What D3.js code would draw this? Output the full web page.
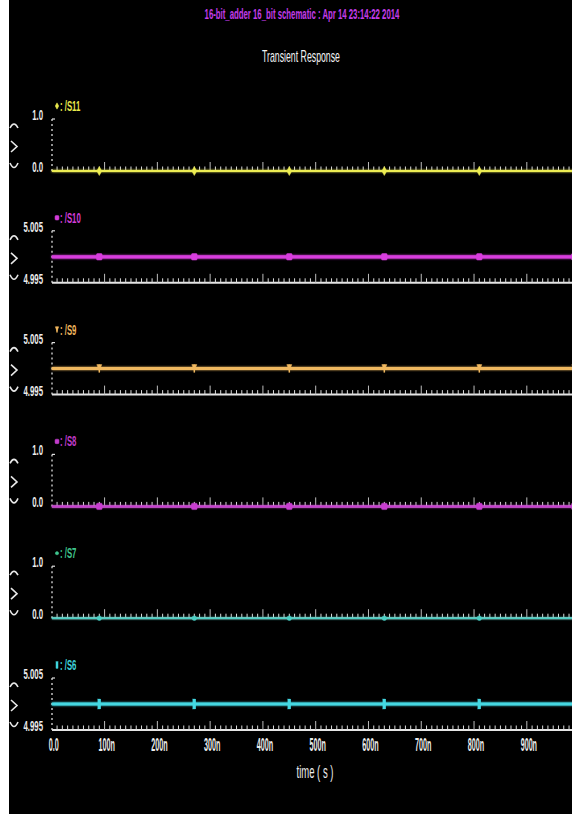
<!DOCTYPE html>
<html>
<head>
<meta charset="utf-8">
<script src="https://cdn.jsdelivr.net/npm/d3@7/dist/d3.min.js"></script>
<style>
  html, body { margin: 0; padding: 0; background: #ffffff; }
  svg { display: block; }
  text { font-family: "Liberation Sans", Arial, sans-serif; }
</style>
</head>
<body>
<svg id="chart" width="572" height="814"></svg>
<script>
// Time axis (ns)
const timeTickValues = [0, 100, 200, 300, 400, 500, 600, 700, 800, 900];
const timeTickLabels = ["0.0", "100n", "200n", "300n", "400n", "500n", "600n", "700n", "800n", "900n"];

// Signals, top to bottom
const signalNames = ["/S11", "/S10", "/S9", "/S8", "/S7", "/S6"];
const signalColors = ["#e8e84c", "#d23cd8", "#eeb45c", "#c23ccc", "#3fc58e", "#3fd4dc"];
const traceColors  = ["#ecec52", "#d83ede", "#f0b860", "#c83ed0", "#4ccfc4", "#44d8e2"];
const traceWidths  = [2, 3.2, 3, 2, 1.5, 3];
const markerShapes = ["diamond", "square", "tri", "square", "circle", "bar"];

// Sample times (ns) and values (V)
const sampleTimes = [0, 90, 270, 450, 630, 810, 990, 1000];
const valuesS11 = [0, 0, 0, 0, 0, 0, 0, 0];
const valuesS10 = [5.0, 5.0, 5.0, 5.0, 5.0, 5.0, 5.0, 5.0];
const valuesS9  = [5.0, 5.0, 5.0, 5.0, 5.0, 5.0, 5.0, 5.0];
const valuesS8  = [0, 0, 0, 0, 0, 0, 0, 0];
const valuesS7  = [0, 0, 0, 0, 0, 0, 0, 0];
const valuesS6  = [5.0, 5.0, 5.0, 5.0, 5.0, 5.0, 5.0, 5.0];
const signalValues = [valuesS11, valuesS10, valuesS9, valuesS8, valuesS7, valuesS6];

// Marker times (ns)
const markerTimes = [90, 270, 450, 630, 810, 990];

// Y ranges and their labels
const yDomains = [[0, 1], [4.995, 5.005], [4.995, 5.005], [0, 1], [0, 1], [4.995, 5.005]];
const yTickLabels = [["0.0", "1.0"], ["4.995", "5.005"], ["4.995", "5.005"],
                     ["0.0", "1.0"], ["0.0", "1.0"], ["4.995", "5.005"]];

const titleText = "16-bit_adder 16_bit schematic : Apr 14 23:14:22 2014";
const subtitleText = "Transient Response";
const xAxisTitle = "time ( s )";

const W = 572, H = 814;
const svg = d3.select("#chart");

// screen background
svg.append("rect").attr("x", 9).attr("y", 0).attr("width", W - 9).attr("height", H).attr("fill", "#000");

const defs = svg.append("defs");
const glow = defs.append("filter").attr("id", "glow").attr("filterUnits", "userSpaceOnUse")
  .attr("x", 0).attr("y", 0).attr("width", W).attr("height", H);
glow.append("feGaussianBlur").attr("stdDeviation", 1.3).attr("result", "b");
const merge = glow.append("feMerge");
merge.append("feMergeNode").attr("in", "b");
merge.append("feMergeNode").attr("in", "SourceGraphic");

// horizontally squeezed text, fitted to a target width
function fitted(parent, str, cx, baseline, width, size, color, weight) {
  const t = parent.append("text").attr("text-anchor", "middle")
    .attr("font-size", size).attr("font-weight", weight || "normal").attr("fill", color).text(str);
  const natural = t.node().getComputedTextLength();
  t.attr("transform", `translate(${cx},${baseline}) scale(${width / natural},1)`);
  return t;
}

// headings
fitted(svg, titleText, 302, 19, 195, 15, "#c23ce8", "bold");
fitted(svg, subtitleText, 301, 62, 78, 16, "#f2f2f2", "normal");

// shared time scale
const x = d3.scaleLinear().domain([0, 1000]).range([51.8, 579.6]);
const xLeft = 52, xRight = W;

// panel placement: baseline of each strip
const panelBottom = d3.scalePoint().domain(signalNames).range([171, 730]);
const panelHeight = 52;

const minorTicks = x.ticks(100).filter(t => t <= 1000);

function condensed(sel, sx) {
  return sel.attr("transform", function () {
    const t = d3.select(this);
    return `translate(${+t.attr("data-x")},${+t.attr("data-y")}) scale(${sx},1)`;
  });
}

function drawMarker(sel, shape, mx, my, s = 1) {
  if (shape === "diamond") {
    sel.append("path").attr("d", `M${mx},${my - 4.5 * s} L${mx + 2.5 * s},${my} L${mx},${my + 4.5 * s} L${mx - 2.5 * s},${my} Z`).attr("stroke-width", 0.5);
  } else if (shape === "square") {
    sel.append("rect").attr("x", mx - 2.8 * s).attr("y", my - 3.2 * s).attr("width", 5.6 * s).attr("height", 6.4 * s).attr("rx", 1).attr("stroke-width", 0.5);
  } else if (shape === "tri") {
    sel.append("path").attr("d", `M${mx - 2.5 * s},${my - 4 * s} L${mx + 2.5 * s},${my - 4 * s} L${mx},${my + 2 * s} Z`).attr("stroke-width", 0.5);
    sel.append("line").attr("x1", mx).attr("x2", mx).attr("y1", my - 4 * s).attr("y2", my + 4 * s).attr("stroke-width", 1.5);
  } else if (shape === "circle") {
    sel.append("circle").attr("cx", mx).attr("cy", my).attr("r", 2.3 * s).attr("stroke-width", 0.5);
  } else if (shape === "bar") {
    sel.append("rect").attr("x", mx - 1.5 * s).attr("y", my - 5 * s).attr("width", 3 * s).attr("height", 10 * s).attr("stroke-width", 0.3);
  }
}

signalNames.forEach((name, i) => {
  const yb = panelBottom(name);
  const yt = yb - panelHeight;
  const y = d3.scaleLinear().domain(yDomains[i]).range([yb, yt]);
  const g = svg.append("g");

  // time axis: line + minor/major ticks pointing up
  g.append("line").attr("x1", xLeft).attr("x2", xRight).attr("y1", yb).attr("y2", yb)
    .attr("stroke", "#e6e6e6").attr("stroke-width", 2);
  g.selectAll("line.tk").data(minorTicks.filter(t => x(t) > xLeft + 1 && x(t) < xRight)).join("line")
    .attr("class", "tk")
    .attr("x1", d => x(d)).attr("x2", d => x(d))
    .attr("y1", yb)
    .attr("y2", d => yb - (d % 100 === 0 ? 9 : 4.5))
    .attr("stroke", d => d % 100 === 0 ? "#bdbdbd" : "#dcdcdc").attr("stroke-width", 1);

  // value axis: dotted vertical with a cap
  g.append("line").attr("x1", xLeft).attr("x2", xLeft).attr("y1", yt).attr("y2", yb)
    .attr("stroke", "#dedede").attr("stroke-width", 1.3).attr("stroke-dasharray", "2,3");
  g.append("line").attr("x1", xLeft).attr("x2", xLeft + 3).attr("y1", yt).attr("y2", yt)
    .attr("stroke", "#dedede").attr("stroke-width", 1.2);

  // value labels
  const yl = [yDomains[i][0], yDomains[i][1]];
  g.selectAll("text.yl").data(yl).join("text").attr("class", "yl")
    .attr("data-x", 43).attr("data-y", d => y(d) + 1)
    .attr("text-anchor", "end").attr("font-size", 15).attr("font-weight", "bold").attr("fill", "#ececec")
    .text((d, k) => yTickLabels[i][k])
    .call(condensed, 0.52);

  // zoom chevrons at the left edge
  const cs = g.append("g").attr("fill", "none").attr("stroke", "#e8e8e8").attr("stroke-width", 1.6);
  cs.append("path").attr("d", `M10,${yt + 9} Q14,${yt + 1} 18,${yt + 9}`);
  cs.append("path").attr("d", `M11,${yb - 30} L17,${yb - 24.5} L11,${yb - 19}`);
  cs.append("path").attr("d", `M10,${yb - 8} Q14,${yb + 1} 18,${yb - 8}`);

  // trace
  const pts = sampleTimes.map((t, k) => [t, signalValues[i][k]]);
  const line = d3.line().x(d => x(d[0])).y(d => y(d[1]));
  g.append("path").datum(pts).attr("d", line)
    .attr("fill", "none").attr("stroke", traceColors[i]).attr("stroke-width", traceWidths[i])
    .attr("filter", "url(#glow)");

  // markers
  const vAt = t => signalValues[i][sampleTimes.indexOf(t)];
  const shape = markerShapes[i];
  const mg = g.append("g").attr("fill", traceColors[i]).attr("stroke", traceColors[i]);
  markerTimes.forEach(t => drawMarker(mg, shape, x(t), y(vAt(t))));

  // legend
  const lg = g.append("g");
  drawMarker(lg.append("g").attr("fill", signalColors[i]).attr("stroke", signalColors[i]), shape, 57, yt - 13, 0.7);
  lg.append("text").attr("data-x", 60).attr("data-y", yt - 8)
    .attr("font-size", 15).attr("font-weight", "bold").attr("fill", signalColors[i])
    .text(": " + name)
    .call(condensed, 0.52);
});

// time tick labels under the last strip
const lastBottom = panelBottom(signalNames[signalNames.length - 1]);
svg.append("g").selectAll("text").data(timeTickValues).join("text")
  .attr("data-x", d => x(d) + 2).attr("data-y", lastBottom + 21)
  .attr("text-anchor", "middle").attr("font-size", 18).attr("font-weight", "bold").attr("fill", "#ececec")
  .text((d, k) => timeTickLabels[k])
  .call(condensed, 0.4);

fitted(svg, xAxisTitle, 315, lastBottom + 48, 37, 18, "#ececec", "normal");
</script>
</body>
</html>
